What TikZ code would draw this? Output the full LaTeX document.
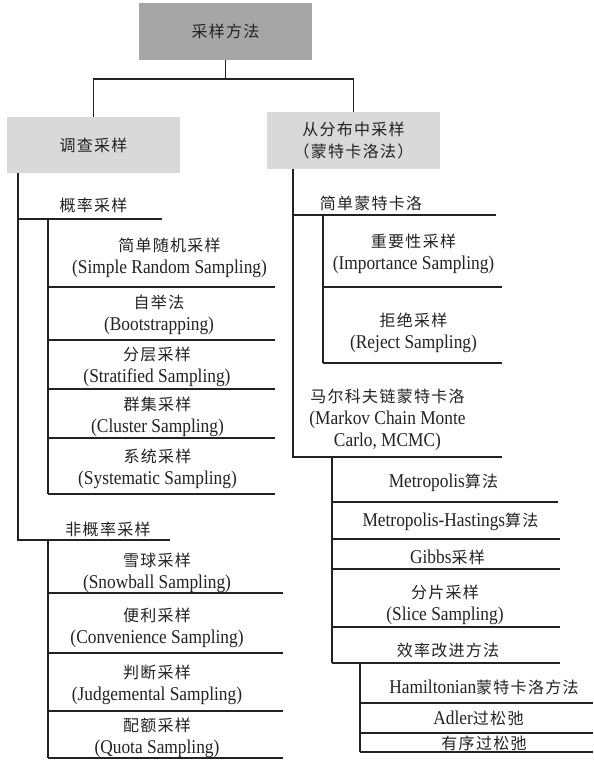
\documentclass[tikz,border=0pt]{standalone}
\usepackage{fontspec}
\setmainfont[FakeStretch=0.89]{Liberation Serif}
\newfontfamily\cjk[LetterSpace=8]{Noto Sans CJK SC}
\newcommand{\zh}[1]{{\fontsize{16}{22}\cjk #1}}
\newcommand{\en}{\fontsize{19.5}{22}\selectfont}
\definecolor{topgray}{HTML}{A6A6A6}
\definecolor{boxgray}{HTML}{D9D9D9}
\definecolor{ink}{HTML}{222222}
\begin{document}
\begin{tikzpicture}[x=1pt,y=-1pt,
  every node/.style={inner sep=0pt, align=center, text=ink, font=\en},
  ln/.style={line width=1.1pt, draw=ink},
  hbox/.style={minimum width=173pt, minimum height=57pt}]
\useasboundingbox (0,0) rectangle (594,761);

% header boxes
\node[hbox, fill=topgray] (top) at (225.5,31.5) {\zh{采样方法}};
\node[hbox, fill=boxgray, minimum height=56pt] (left) at (93.5,145) {\zh{调查采样}};
\node[hbox, fill=boxgray] (right) at (353.5,140.5) {\zh{从分布中采样}\\\zh{（蒙特卡洛法）}};

\coordinate (j) at (225.5,79);
\draw[ln] (top.south) -- (j);
\draw[ln] (left.north) |- (j) -| (right.north);

% ---------------- left column ----------------
\coordinate (lt) at (18,173);
\coordinate (ps) at (18,219);
\coordinate (pe) at (162,219);
\coordinate (ns) at (18,540);
\coordinate (ne) at (170,540);
\draw[ln] (lt) -- (ns) -- (ne);
\draw[ln] (ps) -- (pe);
\node (prob) at (93.5,205) {\zh{概率采样}};
\node (nprob) at (108,529) {\zh{非概率采样}};

\coordinate (pv1) at (48,219);
\coordinate (pv2) at (48,494);
\draw[ln] (pv1) -- (pv2);
\foreach \y in {287,340,389,438,494} \draw[ln] (48,\y) -- (275,\y);

\node (srs) at (169.5,257.5) {\zh{简单随机采样}\\(Simple Random Sampling)};
\node (boot) at (159,315) {\zh{自举法}\\(Bootstrapping)};
\node (strat) at (157,367) {\zh{分层采样}\\(Stratified Sampling)};
\node (clus) at (157.5,416.5) {\zh{群集采样}\\(Cluster Sampling)};
\node (sys) at (157.5,469) {\zh{系统采样}\\(Systematic Sampling)};

\coordinate (nv1) at (48,540);
\coordinate (nv2) at (48,758);
\draw[ln] (nv1) -- (nv2);
\foreach \y in {593,653,711,758} \draw[ln] (48,\y) -- (283,\y);

\node (snow) at (157,572.5) {\zh{雪球采样}\\(Snowball Sampling)};
\node (conv) at (157,628) {\zh{便利采样}\\(Convenience Sampling)};
\node (judg) at (157,684.5) {\zh{判断采样}\\(Judgemental Sampling)};
\node (quota) at (157,738) {\zh{配额采样}\\(Quota Sampling)};

% ---------------- right column ----------------
\coordinate (rt) at (293,169);
\coordinate (rb) at (293,457);
\coordinate (re) at (502,457);
\draw[ln] (rt) -- (rb) -- (re);
\coordinate (ss) at (293,215);
\coordinate (se) at (496,215);
\draw[ln] (ss) -- (se);
\node (smc) at (371,203) {\zh{简单蒙特卡洛}};

\coordinate (sv1) at (323,215);
\coordinate (sv2) at (323,363);
\draw[ln] (sv1) -- (sv2);
\foreach \y in {287,363} \draw[ln] (323,\y) -- (502,\y);
\node (imp) at (413.5,254) {\zh{重要性采样}\\(Importance Sampling)};
\node (rej) at (413.5,332.5) {\zh{拒绝采样}\\(Reject Sampling)};

\node (mcmc) at (387.5,420) {\zh{马尔科夫链蒙特卡洛}\\(Markov Chain Monte\\Carlo, MCMC)};

\coordinate (mv1) at (332,457);
\coordinate (mv2) at (332,663);
\draw[ln] (mv1) -- (mv2);
\draw[ln] (332,502) -- (558,502);
\foreach \y in {539,569,627,663} \draw[ln] (332,\y) -- (560,\y);
\node (metro) at (443.5,483) {Metropolis\zh{算法}};
\node (mh) at (450.5,522) {Metropolis-Hastings\zh{算法}};
\node (gibbs) at (447.5,557) {Gibbs\zh{采样}};
\node (slice) at (445,605) {\zh{分片采样}\\(Slice Sampling)};
\node (eff) at (448,650) {\zh{效率改进方法}};

\coordinate (ev1) at (360,663);
\coordinate (ev2) at (360,752);
\draw[ln] (ev1) -- (ev2);
\foreach \y in {703,733,752} \draw[ln] (360,\y) -- (593,\y);
\node (ham) at (484,687) {Hamiltonian\zh{蒙特卡洛方法}};
\node (adler) at (478.5,718) {Adler\zh{过松弛}};
\node (ord) at (484,743) {\zh{有序过松弛}};
\end{tikzpicture}
\end{document}
